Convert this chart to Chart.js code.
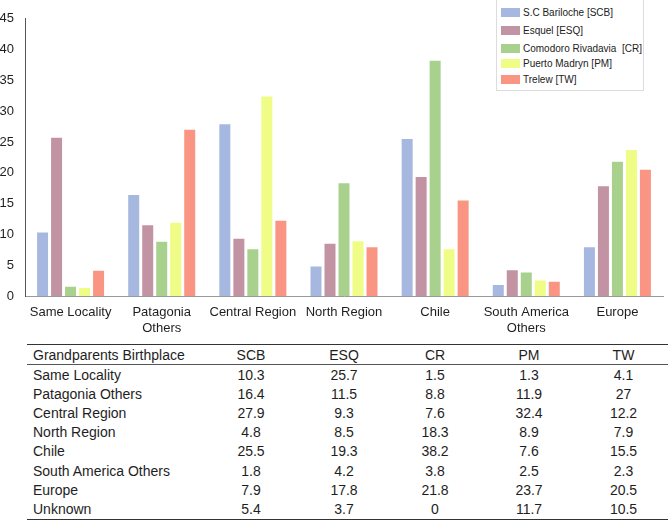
<!DOCTYPE html>
<html>
<head>
<meta charset="utf-8">
<script src="https://cdn.jsdelivr.net/npm/chart.js@4"></script>
<style>
  body { margin: 0; background: #fff; font-family: "Liberation Sans", Arial, sans-serif; }
  #wrap { position: relative; width: 668px; height: 522px; overflow: hidden; }
  #chart-box { position: absolute; left: 0; top: 0; width: 668px; height: 340px; }
  #legend {
    position: absolute; left: 496px; top: -1px; width: 146px; height: 90px;
    border: 1px solid #dcdcdc; background: #fff; font-size: 10px; color: #222;
  }
  .lg-item { position: absolute; left: 4px; height: 12px; line-height: 12px; white-space: pre; }
  .lg-sw { display: inline-block; width: 19px; height: 9px; vertical-align: -1px; margin-right: 3px; }
  #data-table {
    position: absolute; left: 27px; top: 344px; width: 641px;
    border-collapse: collapse; table-layout: fixed; font-size: 14px; color: #1e1e1e;
    border-top: 1.5px solid #333; border-bottom: 1.5px solid #333;
  }
  #data-table td, #data-table th { padding: 0; height: 19.2px; line-height: 16px; font-weight: normal; text-align: center; }
  #data-table td:first-child, #data-table th:first-child { text-align: left; padding-left: 6px; }
  #data-table thead th { border-bottom: 1px solid #555; height: 19px; }
</style>
</head>
<body>
<div id="wrap">
  <div id="chart-box"><canvas id="chart"></canvas></div>
  <div id="legend"></div>
  <table id="data-table">
    <colgroup>
      <col style="width:178px"><col style="width:92px"><col style="width:94px">
      <col style="width:88px"><col style="width:100px"><col style="width:89px">
    </colgroup>
    <thead></thead>
    <tbody></tbody>
  </table>
</div>
<script>
// ─── Data ─────────────────────────────────────────────────────────
const categories = [
  "Same Locality", ["Patagonia", "Others"], "Central Region", "North Region",
  "Chile", ["South America", "Others"], "Europe",
];
const tableRows = [
  "Same Locality", "Patagonia Others", "Central Region", "North Region",
  "Chile", "South America Others", "Europe", "Unknown",
];
const seriesNames = [
  "S.C Bariloche [SCB]", "Esquel [ESQ]", "Comodoro Rivadavia  [CR]",
  "Puerto Madryn [PM]", "Trelew [TW]",
];
const seriesCodes = ["SCB", "ESQ", "CR", "PM", "TW"];
const seriesColors = ["#a6b7e0", "#c293a3", "#a9d18e", "#effd86", "#fb9583"];

// values include the "Unknown" row, which appears only in the table
const scb = [10.3, 16.4, 27.9, 4.8, 25.5, 1.8, 7.9, 5.4];
const esq = [25.7, 11.5, 9.3, 8.5, 19.3, 4.2, 17.8, 3.7];
const cr  = [1.5, 8.8, 7.6, 18.3, 38.2, 3.8, 21.8, 0];
const pm  = [1.3, 11.9, 32.4, 8.9, 7.6, 2.5, 23.7, 11.7];
const tw  = [4.1, 27, 12.2, 7.9, 15.5, 2.3, 20.5, 10.5];
const seriesValues = [scb, esq, cr, pm, tw];

const yTicks = [0, 5, 10, 15, 20, 25, 30, 35, 40, 45];

// ─── Chart ────────────────────────────────────────────────────────
const font = { family: "'Liberation Sans', Arial, sans-serif", size: 13 };

new Chart(document.getElementById("chart"), {
  type: "bar",
  data: {
    labels: categories,
    datasets: seriesNames.map((name, i) => ({
      label: name,
      data: seriesValues[i].slice(0, categories.length),
      backgroundColor: seriesColors[i],
      borderWidth: 0,
      categoryPercentage: 0.768,
      barPercentage: 0.786,
    })),
  },
  options: {
    responsive: true,
    maintainAspectRatio: false,
    animation: false,
    layout: { padding: { top: 17, right: 5, left: 0, bottom: 0 } },
    plugins: { legend: { display: false }, tooltip: { enabled: false } },
    scales: {
      x: {
        grid: { display: false, drawTicks: false },
        border: { display: true, color: "#9a9a9a", width: 1 },
        ticks: { color: "#1e1e1e", font, padding: 9, maxRotation: 0, autoSkip: false },
        afterFit: (s) => { s.height = 44; },
      },
      y: {
        min: 0,
        max: 45,
        grid: { display: false, drawTicks: false },
        border: { display: true, color: "#555", width: 1 },
        afterBuildTicks: (s) => { s.ticks = yTicks.map((v) => ({ value: v })); },
        ticks: { color: "#1e1e1e", font, padding: 11 },
        afterFit: (s) => { s.width = 25; },
      },
    },
  },
});

// ─── Legend ───────────────────────────────────────────────────────
const legendEl = document.getElementById("legend");
const legendTops = [7, 25, 43, 58, 74];
seriesNames.forEach((name, i) => {
  const item = document.createElement("div");
  item.className = "lg-item";
  item.style.top = legendTops[i] + "px";
  item.innerHTML = `<span class="lg-sw" style="background:${seriesColors[i]}"></span>${name}`;
  legendEl.appendChild(item);
});

// ─── Table ────────────────────────────────────────────────────────
const thead = document.querySelector("#data-table thead");
thead.innerHTML = `<tr><th>Grandparents Birthplace</th>${seriesCodes.map((c) => `<th>${c}</th>`).join("")}</tr>`;
const tbody = document.querySelector("#data-table tbody");
tbody.innerHTML = tableRows
  .map((row, r) => `<tr><td>${row}</td>${seriesValues.map((s) => `<td>${s[r]}</td>`).join("")}</tr>`)
  .join("");
</script>
</body>
</html>
